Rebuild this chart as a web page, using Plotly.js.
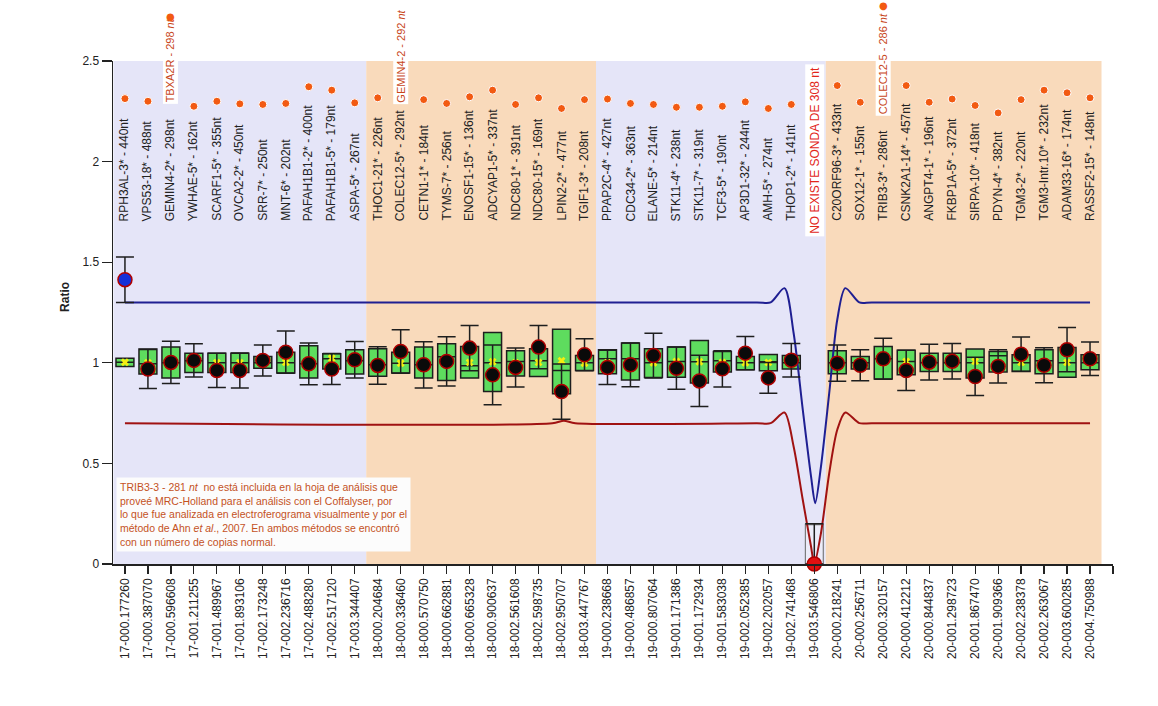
<!DOCTYPE html>
<html>
<head>
<meta charset="utf-8">
<script src="https://cdn.plot.ly/plotly-3.0.1.min.js"></script>
<style>html,body{margin:0;padding:0;background:#fff;}#chart{width:1158px;height:706px;}</style>
</head>
<body>
<div id="chart"></div>
<script>
// ---- data ----
var cats = ["17-000.177260","17-000.387070","17-000.596608","17-001.211255","17-001.489967","17-001.893106","17-002.173248","17-002.236716","17-002.488280","17-002.517120","17-003.344407",
"18-000.204684","18-000.336460","18-000.570750","18-000.662881","18-000.665328","18-000.900637","18-002.561608","18-002.598735","18-002.950707","18-003.447767",
"19-000.238668","19-000.486857","19-000.807064","19-001.171386","19-001.172934","19-001.583038","19-002.052385","19-002.202057","19-002.741468","19-003.546806",
"20-000.218241","20-000.256711","20-000.320157","20-000.412212","20-000.844837","20-001.298723","20-001.867470","20-001.909366","20-002.238378","20-002.263067","20-003.600285","20-004.750988"];

var probeLabels = ["RPH3AL-3* - 440nt","VPS53-18* - 488nt","GEMIN4-2* - 298nt","YWHAE-5* - 162nt","SCARF1-5* - 355nt","OVCA2-2* - 450nt","SRR-7* - 250nt","MNT-6* - 202nt","PAFAH1B1-2* - 400nt","PAFAH1B1-5* - 179nt","ASPA-5* - 267nt",
"THOC1-21* - 226nt","COLEC12-5* - 292nt","CETN1-1* - 184nt","TYMS-7* - 256nt","ENOSF1-15* - 136nt","ADCYAP1-5* - 337nt","NDC80-1* - 391nt","NDC80-15* - 169nt","LPIN2-2* - 477nt","TGIF1-3* - 208nt",
"PPAP2C-4* - 427nt","CDC34-2* - 363nt","ELANE-5* - 214nt","STK11-4* - 238nt","STK11-7* - 319nt","TCF3-5* - 190nt","AP3D1-32* - 244nt","AMH-5* - 274nt","THOP1-2* - 141nt","NO EXISTE SONDA DE 308 nt",
"C20ORF96-3* - 433nt","SOX12-1* - 155nt","TRIB3-3* - 286nt","CSNK2A1-14* - 457nt","ANGPT4-1* - 196nt","FKBP1A-5* - 372nt","SIRPA-10* - 418nt","PDYN-4* - 382nt","TGM3-2* - 220nt","TGM3-Intr.10* - 232nt","ADAM33-16* - 174nt","RASSF2-15* - 148nt"];
var missingProbe = [30];

// orange probe dots (null = none; probes 2, 12, 33 carry their dot on the extra label)
var probeDots = [2.313,2.300,null,2.275,2.300,2.287,2.284,2.289,2.372,2.355,2.292,
2.317,null,2.308,2.289,2.322,2.355,2.284,2.317,2.264,2.308,
2.311,2.289,2.284,2.270,2.270,2.275,2.297,2.264,2.284,null,
2.378,2.295,null,2.378,2.295,2.311,2.279,2.242,2.308,2.355,2.342,2.317];

// extra probe labels drawn above some probes, with their own dots (null = not visible)
var extraIdx = [2, 12, 33];
var extraText = ["TBXA2R - 298 <i>nt</i>", "GEMIN4-2 - 292 <i>nt</i>", "COLEC12-5 - 286 <i>nt</i>"];
var extraDots = [2.723, null, 2.776];

// reference boxes
var boxQ3 = [1.023,1.068,1.078,1.048,1.048,1.048,1.031,1.053,1.085,1.045,1.065,
1.070,1.053,1.078,1.095,1.081,1.151,1.060,1.070,1.167,1.036,
1.065,1.098,1.070,1.078,1.111,1.056,1.031,1.041,1.036,0.200,
1.060,1.031,1.081,1.062,1.048,1.048,1.068,1.056,1.040,1.065,1.076,1.040];
var boxMed = [1.003,0.995,1.000,1.010,1.000,1.000,1.000,1.000,0.995,1.020,1.010,
0.990,0.998,0.990,1.030,0.985,1.000,1.007,1.010,0.962,1.000,
1.020,1.020,1.000,1.007,1.005,1.010,1.000,1.005,1.000,0.200,
1.000,1.000,1.020,1.007,1.000,1.000,1.000,1.035,1.000,1.010,1.000,1.000];
var boxQ1 = [0.982,0.944,0.924,0.952,0.952,0.952,0.973,0.949,0.924,0.969,0.944,
0.933,0.949,0.924,0.912,0.924,0.857,0.935,0.932,0.846,0.962,
0.945,0.915,0.927,0.928,0.899,0.954,0.965,0.960,0.969,0.000,
0.945,0.969,0.919,0.940,0.957,0.957,0.924,0.954,0.957,0.945,0.928,0.965];
var boxMean = [1.003,1.000,1.000,1.000,1.000,1.000,1.000,1.002,1.000,1.023,1.000,
1.000,0.998,1.000,1.000,1.002,1.005,1.000,1.002,1.010,0.998,
1.000,1.000,1.000,1.007,1.005,1.002,1.000,1.002,1.000,null,
1.000,1.000,1.000,1.007,1.000,1.000,1.007,1.000,1.002,1.000,1.002,1.000];

// sample ratio with confidence interval
var ratio = [1.413,0.969,1.002,1.012,0.962,0.962,1.012,1.053,0.995,0.969,1.015,
0.987,1.056,0.990,1.007,1.073,0.940,0.977,1.078,0.857,1.040,
0.977,0.990,1.036,0.973,0.910,0.970,1.048,0.925,1.013,0.000,
0.998,0.988,1.020,0.962,1.003,1.008,0.932,0.982,1.043,0.988,1.065,1.020];
var errPlus = [0.113,0.097,0.105,0.083,0.085,0.087,0.077,0.105,0.104,0.077,0.091,
0.093,0.108,0.115,0.122,0.113,0.149,0.097,0.108,0.137,0.079,
0.085,0.109,0.111,0.105,0.127,0.090,0.083,0.076,0.083,0.200,
0.090,0.077,0.102,0.100,0.089,0.088,0.095,0.083,0.085,0.087,0.110,0.083];
var errMinus = [0.113,0.097,0.105,0.083,0.085,0.087,0.077,0.105,0.104,0.077,0.091,
0.093,0.108,0.115,0.122,0.113,0.149,0.097,0.108,0.137,0.079,
0.085,0.109,0.111,0.105,0.127,0.090,0.083,0.076,0.083,0.000,
0.090,0.077,0.102,0.100,0.089,0.088,0.095,0.083,0.085,0.087,0.110,0.083];

// threshold curves
var upperX = [0, 27.5, 28.1, 28.7, 29.1, 29.5, 29.86, 30.04, 30.29, 30.65, 31.0, 31.35, 31.96, 32.5, 42];
var upperY = [1.30, 1.30, 1.30, 1.371, 1.148, 0.766, 0.434, 0.302, 0.484, 0.849, 1.214, 1.371, 1.30, 1.30, 1.30];
var lowerX = [0, 18.6, 19.1, 19.6, 27.5, 28.1, 28.7, 29.1, 29.5, 29.86, 30.0, 30.29, 30.65, 31.0, 31.35, 31.96, 32.5, 42];
var lowerY = [0.70, 0.70, 0.712, 0.70, 0.70, 0.70, 0.753, 0.584, 0.318, 0.086, 0.0, 0.153, 0.451, 0.667, 0.753, 0.70, 0.70, 0.70];

// chromosome group boundaries (category index ranges)
var groupStart = [0, 11, 21, 31];
var groupEnd = [10, 20, 30, 42];
var groupColor = ["#e5e5f8", "#f9dabb", "#e5e5f8", "#f9dabb"];

var noteText = "TRIB3-3 - 281 <i>nt</i>  no está incluida en la hoja de análisis que<br>proveé MRC-Holland para el análisis con el Coffalyser, por<br>lo que fue analizada en electroferograma visualmente y por el<br>método de Ahn <i>et al</i>., 2007. En ambos métodos se encontró<br>con un número de copias normal.";

// ---- build ----
var FONT = 'Liberation Sans, Arial, sans-serif';
var yMax = 2.5;
var idx = cats.map(function(_, i){ return i; });
var upperLimit = 1.3, lowerLimit = 0.7;

var gi = idx.filter(function(i){ return boxMean[i] !== null; });
var hi = idx.filter(function(i){ return boxMean[i] === null; });
function pick(arr, ids){ return ids.map(function(i){ return arr[i]; }); }

var traces = [];
traces.push({
  type: 'box', x: gi, q1: pick(boxQ1, gi), median: pick(boxMed, gi), q3: pick(boxQ3, gi),
  lowerfence: pick(boxQ1, gi), upperfence: pick(boxQ3, gi),
  width: 0.78, whiskerwidth: 0, fillcolor: '#5edc5e', line: {color: '#1e1e1e', width: 1.5},
  boxpoints: false, hoverinfo: 'skip', showlegend: false
});
traces.push({
  type: 'box', x: hi, q1: pick(boxQ1, hi), median: pick(boxMed, hi), q3: pick(boxQ3, hi),
  lowerfence: pick(boxQ1, hi), upperfence: pick(boxQ3, hi),
  width: 0.78, whiskerwidth: 0, fillcolor: 'rgba(240,240,250,0.6)', line: {color: '#666', width: 1},
  boxpoints: false, hoverinfo: 'skip', showlegend: false
});
traces.push({
  type: 'scatter', mode: 'markers', x: gi, y: pick(boxMean, gi),
  marker: {symbol: 'x', size: 7, color: '#f5ee10', line: {width: 0}},
  hoverinfo: 'skip', showlegend: false
});
traces.push({
  type: 'scatter', mode: 'lines', x: upperX, y: upperY,
  line: {color: '#1f1f92', width: 2, shape: 'spline', smoothing: 0.8},
  hoverinfo: 'skip', showlegend: false
});
traces.push({
  type: 'scatter', mode: 'lines', x: lowerX, y: lowerY,
  line: {color: '#a01212', width: 2, shape: 'spline', smoothing: 0.8},
  hoverinfo: 'skip', showlegend: false
});
traces.push({
  type: 'scatter', mode: 'markers', x: idx, y: ratio, cliponaxis: false,
  error_y: {type: 'data', symmetric: false, array: errPlus, arrayminus: errMinus, color: '#1e1e1e', thickness: 1.5, width: 9},
  marker: {
    size: 14,
    color: ratio.map(function(v){ return v > upperLimit ? '#1530d8' : (v < lowerLimit ? '#e01010' : '#0a0a0a'); }),
    line: {color: '#b00000', width: 1.5}
  },
  hoverinfo: 'skip', showlegend: false
});
traces.push({
  type: 'scatter', mode: 'markers', x: idx, y: probeDots, cliponaxis: false,
  marker: {size: 8, color: '#f25a12', line: {color: '#fff', width: 1}},
  hoverinfo: 'skip', showlegend: false
});

var shapes = groupStart.map(function(s, k){
  return {type: 'rect', xref: 'x', yref: 'y', x0: s - 0.5, x1: groupEnd[k] + 0.5, y0: 0, y1: yMax,
          fillcolor: groupColor[k], line: {width: 0}, layer: 'below'};
});

var annotations = [];
idx.forEach(function(i){
  var special = missingProbe.indexOf(i) >= 0;
  annotations.push({
    x: i, y: special ? 1.625 : 1.70, xref: 'x', yref: 'y', text: probeLabels[i],
    textangle: -90, xanchor: 'center', yanchor: 'bottom', showarrow: false,
    font: {family: FONT, size: 12, color: special ? '#e2261a' : '#222'},
    bgcolor: special ? '#ffffff' : 'rgba(0,0,0,0)', borderpad: special ? 2 : 0
  });
});
var extraY = [2.284, 2.284, 2.224];
extraIdx.forEach(function(i, k){
  annotations.push({
    x: i, y: extraY[k], xref: 'x', yref: 'y', text: extraText[k],
    textangle: -90, xanchor: 'center', yanchor: 'bottom', showarrow: false,
    font: {family: FONT, size: 11, color: '#c8461a'},
    bgcolor: '#ffffff', borderpad: 1
  });
  if (extraDots[k] !== null) {
    // the probe dot belonging to this label (sits above the plot area)
    annotations.push({
      x: i, y: extraDots[k] / yMax, xref: 'x', yref: 'paper', text: '●',
      xanchor: 'center', yanchor: 'middle', showarrow: false,
      font: {family: 'DejaVu Sans, sans-serif', size: 10, color: '#f25a12'}
    });
  }
});
annotations.push({
  x: 0.003, y: 0.433, xref: 'paper', yref: 'y', xanchor: 'left', yanchor: 'top', align: 'left',
  text: noteText, showarrow: false, bgcolor: '#fcfcfc', borderpad: 3,
  font: {family: FONT, size: 10.5, color: '#c4521e'}
});
annotations.push({
  x: -0.057, y: 0.531, xref: 'paper', yref: 'paper', text: '<b>Ratio</b>', textangle: -90,
  showarrow: false, font: {family: FONT, size: 12, color: '#222'}
});

var layout = {
  width: 1158, height: 706,
  margin: {l: 113, r: 45, t: 61, b: 142},
  paper_bgcolor: '#ffffff', plot_bgcolor: '#ffffff',
  font: {family: FONT, size: 12, color: '#222'},
  showlegend: false,
  xaxis: {
    type: 'linear', range: [-0.52, 43], tickmode: 'array',
    tickvals: idx.concat([cats.length]), ticktext: cats.concat(['']),
    tickangle: -90, ticks: 'outside', ticklen: 8, tickwidth: 1.2, tickcolor: '#222',
    showline: true, linecolor: '#222', linewidth: 1.5, showgrid: false, zeroline: false,
    tickfont: {size: 12, color: '#222'}
  },
  yaxis: {
    range: [0, yMax], dtick: 0.5, tick0: 0, ticks: 'outside', ticklen: 10, tickwidth: 1.2, tickcolor: '#222',
    showline: true, linecolor: '#222', linewidth: 1.5, showgrid: false, zeroline: false,
    tickfont: {size: 12, color: '#222'}
  },
  shapes: shapes,
  annotations: annotations
};

Plotly.newPlot('chart', traces, layout, {displayModeBar: false, staticPlot: true});
</script>
</body>
</html>
